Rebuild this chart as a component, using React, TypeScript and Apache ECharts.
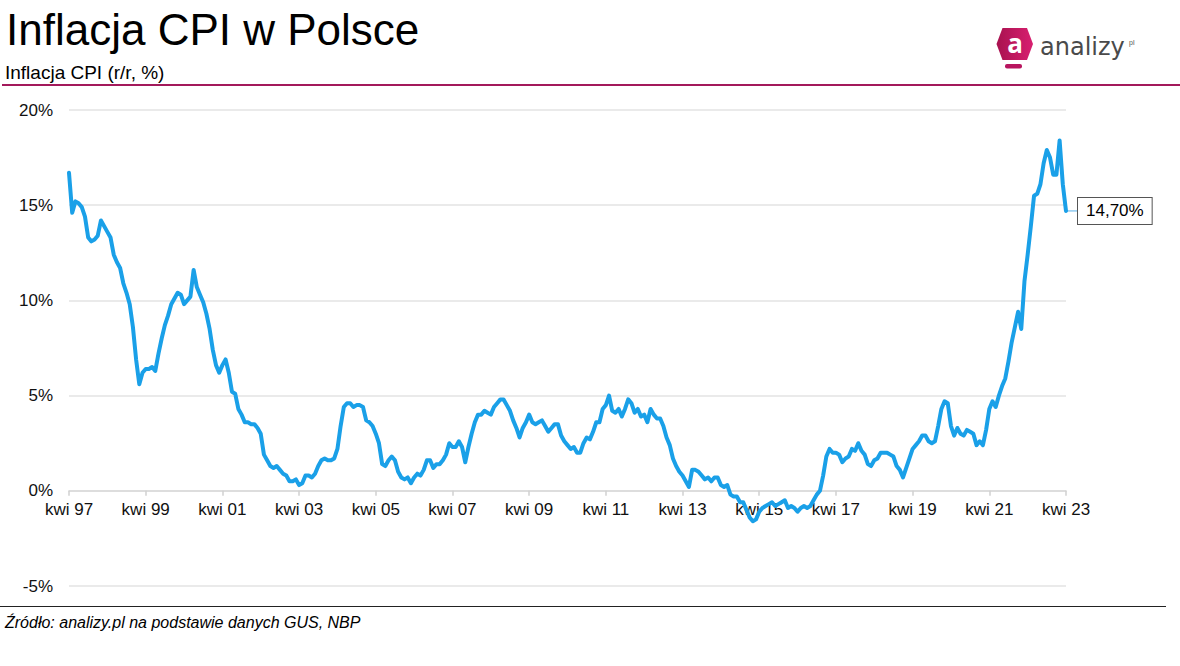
import React, { useEffect, useRef } from 'react';
import * as echarts from 'echarts';

const FONT = '"Liberation Sans", Arial, Helvetica, sans-serif';

const TITLE = 'Inflacja CPI w Polsce';
const SUBTITLE = 'Inflacja CPI (r/r, %)';
const SOURCE = 'Źródło: analizy.pl na podstawie danych GUS, NBP';
const LOGO_TEXT = 'analizy';
const LOGO_SUFFIX = 'pl';
const START_YEAR = 1997; // first point: April 1997
const TICK_MONTH_LABEL = 'kwi';
const Y_MIN = -5;
const Y_MAX = 20;
const Y_STEP = 5;
const X_STEP_MONTHS = 24;

// CPI y/y, % (monthly). 1997 starts in April, 2023 ends in April.
const cpi1997 = [16.7, 14.6, 15.2, 15.1, 14.9, 14.4, 13.3, 13.1, 13.2];
const cpi1998 = [13.4, 14.2, 13.9, 13.6, 13.3, 12.4, 12.0, 11.7, 10.9, 10.4, 9.8, 8.6];
const cpi1999 = [6.9, 5.6, 6.2, 6.4, 6.4, 6.5, 6.3, 7.2, 8.0, 8.7, 9.2, 9.8];
const cpi2000 = [10.1, 10.4, 10.3, 9.8, 10.0, 10.2, 11.6, 10.7, 10.3, 9.9, 9.3, 8.5];
const cpi2001 = [7.4, 6.6, 6.2, 6.6, 6.9, 6.2, 5.2, 5.1, 4.3, 4.0, 3.6, 3.6];
const cpi2002 = [3.5, 3.5, 3.3, 3.0, 1.9, 1.6, 1.3, 1.2, 1.3, 1.1, 0.9, 0.8];
const cpi2003 = [0.5, 0.5, 0.6, 0.3, 0.4, 0.8, 0.8, 0.7, 0.9, 1.3, 1.6, 1.7];
const cpi2004 = [1.6, 1.6, 1.7, 2.2, 3.4, 4.4, 4.6, 4.6, 4.4, 4.5, 4.5, 4.4];
const cpi2005 = [3.7, 3.6, 3.4, 3.0, 2.5, 1.4, 1.3, 1.6, 1.8, 1.6, 1.0, 0.7];
const cpi2006 = [0.6, 0.7, 0.4, 0.7, 0.9, 0.8, 1.1, 1.6, 1.6, 1.2, 1.4, 1.4];
const cpi2007 = [1.6, 1.9, 2.5, 2.3, 2.3, 2.6, 2.3, 1.5, 2.3, 3.0, 3.6, 4.0];
const cpi2008 = [4.0, 4.2, 4.1, 4.0, 4.4, 4.6, 4.8, 4.8, 4.5, 4.2, 3.7, 3.3];
const cpi2009 = [2.8, 3.3, 3.6, 4.0, 3.6, 3.5, 3.6, 3.7, 3.4, 3.1, 3.3, 3.5];
const cpi2010 = [3.5, 2.9, 2.6, 2.4, 2.2, 2.3, 2.0, 2.0, 2.5, 2.8, 2.7, 3.1];
const cpi2011 = [3.6, 3.6, 4.3, 4.5, 5.0, 4.2, 4.1, 4.3, 3.9, 4.3, 4.8, 4.6];
const cpi2012 = [4.1, 4.3, 3.9, 4.0, 3.6, 4.3, 4.0, 3.8, 3.8, 3.4, 2.8, 2.4];
const cpi2013 = [1.7, 1.3, 1.0, 0.8, 0.5, 0.2, 1.1, 1.1, 1.0, 0.8, 0.6, 0.7];
const cpi2014 = [0.5, 0.7, 0.7, 0.3, 0.2, 0.3, -0.2, -0.3, -0.3, -0.6, -0.6, -1.0];
const cpi2015 = [-1.4, -1.6, -1.5, -1.1, -0.9, -0.8, -0.7, -0.6, -0.8, -0.7, -0.6, -0.5];
const cpi2016 = [-0.9, -0.8, -0.9, -1.1, -0.9, -0.8, -0.9, -0.8, -0.5, -0.2, 0.0, 0.8];
const cpi2017 = [1.8, 2.2, 2.0, 2.0, 1.9, 1.5, 1.7, 1.8, 2.2, 2.1, 2.5, 2.1];
const cpi2018 = [1.9, 1.4, 1.3, 1.6, 1.7, 2.0, 2.0, 2.0, 1.9, 1.8, 1.3, 1.1];
const cpi2019 = [0.7, 1.2, 1.7, 2.2, 2.4, 2.6, 2.9, 2.9, 2.6, 2.5, 2.6, 3.4];
const cpi2020 = [4.3, 4.7, 4.6, 3.4, 2.9, 3.3, 3.0, 2.9, 3.2, 3.1, 3.0, 2.4];
const cpi2021 = [2.6, 2.4, 3.2, 4.3, 4.7, 4.4, 5.0, 5.5, 5.9, 6.8, 7.8, 8.6];
const cpi2022 = [9.4, 8.5, 11.0, 12.4, 13.9, 15.5, 15.6, 16.1, 17.2, 17.9, 17.5, 16.6];
const cpi2023 = [16.6, 18.4, 16.1, 14.7];

const cpi: number[] = [
  ...cpi1997, ...cpi1998, ...cpi1999, ...cpi2000, ...cpi2001, ...cpi2002,
  ...cpi2003, ...cpi2004, ...cpi2005, ...cpi2006, ...cpi2007, ...cpi2008,
  ...cpi2009, ...cpi2010, ...cpi2011, ...cpi2012, ...cpi2013, ...cpi2014,
  ...cpi2015, ...cpi2016, ...cpi2017, ...cpi2018, ...cpi2019, ...cpi2020,
  ...cpi2021, ...cpi2022, ...cpi2023,
];

const fmtPct = (v: number) => v.toFixed(2).replace('.', ',') + '%';

const GRID = { left: 69, right: 114, top: 110, bottom: 80 };

export default function App() {
  const ref = useRef<HTMLDivElement>(null);

  useEffect(() => {
    if (!ref.current) return;
    const chart = echarts.init(ref.current, undefined, { renderer: 'svg' });
    const data = cpi.map((v, i) => [i, v]);
    const lastIdx = cpi.length - 1;
    const lastVal = cpi[lastIdx];

    // distance (px) from the bottom of the grid to the zero line, via the axis scale
    const plotH = 666 - GRID.top - GRID.bottom;
    const zeroOffset = -((0 - Y_MIN) / (Y_MAX - Y_MIN)) * plotH;

    chart.setOption({
      animation: false,
      textStyle: { fontFamily: FONT },
      grid: { ...GRID, containLabel: false },
      xAxis: {
        type: 'value',
        min: 0,
        max: lastIdx,
        interval: X_STEP_MONTHS,
        position: 'bottom',
        offset: zeroOffset,
        axisLine: { show: true, onZero: false, lineStyle: { color: '#d9d9d9', width: 1.5 } },
        axisTick: { show: true, length: 5, lineStyle: { color: '#d0d0d0', width: 1.5 } },
        splitLine: { show: false },
        axisLabel: {
          margin: 10,
          fontSize: 17,
          color: '#111',
          fontFamily: FONT,
          showMinLabel: true,
          showMaxLabel: true,
          formatter: (v: number) => {
            const yr = (START_YEAR + Math.round(v / 12)) % 100;
            return TICK_MONTH_LABEL + ' ' + String(yr).padStart(2, '0');
          },
        },
      },
      yAxis: {
        type: 'value',
        min: Y_MIN,
        max: Y_MAX,
        interval: Y_STEP,
        axisLine: { show: false },
        axisTick: { show: false },
        splitLine: { lineStyle: { color: '#e3e3e3', width: 1.5 } },
        axisLabel: {
          margin: 16,
          fontSize: 17,
          color: '#111',
          fontFamily: FONT,
          formatter: '{value}%',
        },
      },
      series: [
        {
          type: 'line',
          data,
          showSymbol: false,
          symbol: 'none',
          lineStyle: { color: '#1aa0e8', width: 4, join: 'round', cap: 'round' },
          z: 3,
          endLabel: {
            show: true,
            distance: 12,
            formatter: (p: any) => fmtPct(p.value[1]),
            fontSize: 17,
            fontFamily: FONT,
            color: '#000',
            backgroundColor: '#fff',
            borderColor: '#555',
            borderWidth: 1,
            padding: [5, 8, 4, 8],
          },
        },
      ],
    });

    const p = chart.convertToPixel({ gridIndex: 0 }, [lastIdx, lastVal]) as number[];

    chart.setOption({
      graphic: [
        {
          type: 'text',
          x: 6,
          y: 29,
          style: { text: TITLE, fontSize: 44, fontFamily: FONT, fill: '#000', verticalAlign: 'middle' },
        },
        {
          type: 'text',
          x: 5,
          y: 72,
          style: { text: SUBTITLE, fontSize: 19, fontFamily: FONT, fill: '#000', verticalAlign: 'middle' },
        },
        {
          type: 'line',
          shape: { x1: 2, y1: 85, x2: 1180, y2: 85 },
          style: { stroke: '#a3195b', lineWidth: 2 },
        },
        {
          type: 'line',
          shape: { x1: 0, y1: 606.5, x2: 1166, y2: 606.5 },
          style: { stroke: '#222', lineWidth: 1 },
        },
        {
          type: 'text',
          x: 5,
          y: 622,
          style: {
            text: SOURCE,
            fontSize: 16,
            fontStyle: 'italic',
            fontFamily: FONT,
            fill: '#000',
            verticalAlign: 'middle',
          },
        },
        {
          type: 'line',
          shape: { x1: p[0], y1: p[1], x2: p[0] + 12, y2: p[1] },
          style: { stroke: '#8fcaf0', lineWidth: 1.5 },
          z: 2,
        },
        // logo
        {
          type: 'polygon',
          shape: {
            points: [[1002.5, 28], [1027, 28], [1033, 44], [1027, 60], [1002.5, 60], [996.5, 44]],
          },
          style: {
            fill: new echarts.graphic.LinearGradient(0, 0, 1, 0, [
              { offset: 0, color: '#a8124f' },
              { offset: 1, color: '#d81f70' },
            ]),
            lineJoin: 'round',
          },
        },
        {
          type: 'rect',
          shape: { x: 1005, y: 64, width: 17, height: 4.5, r: 2 },
          style: { fill: '#b8155f' },
        },
        {
          type: 'text',
          x: 1015,
          y: 43,
          style: {
            text: 'a',
            fontSize: 26,
            fontWeight: 'bold',
            fontFamily: '"Open Sans", ' + FONT,
            fill: '#fff',
            align: 'center',
            verticalAlign: 'middle',
          },
        },
        {
          type: 'text',
          x: 1040,
          y: 47,
          style: {
            text: LOGO_TEXT,
            fontSize: 24,
            fontFamily: '"DejaVu Sans", ' + FONT,
            fill: '#4a4a4a',
            verticalAlign: 'middle',
          },
        },
        {
          type: 'text',
          x: 1129,
          y: 42,
          style: {
            text: LOGO_SUFFIX,
            fontSize: 7,
            fontFamily: FONT,
            fill: '#555',
            verticalAlign: 'middle',
          },
        },
      ],
    });

    return () => chart.dispose();
  }, []);

  return (
    <div
      ref={ref}
      style={{ position: 'fixed', left: 0, top: 0, width: 1180, height: 666, background: '#fff' }}
    />
  );
}
